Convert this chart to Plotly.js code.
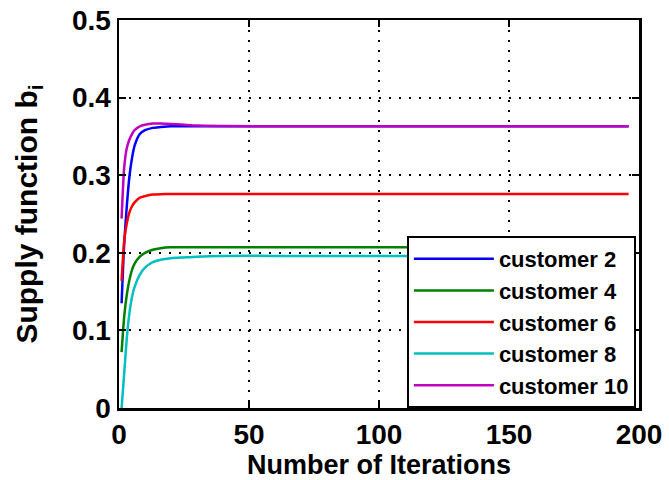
<!DOCTYPE html>
<html>
<head>
<meta charset="utf-8">
<script src="https://cdn.plot.ly/plotly-3.0.1.min.js"></script>
<style>html,body{margin:0;padding:0;background:#fff;}#chart{width:669px;height:480px;}</style>
</head>
<body>
<div id="chart"></div>
<script>
const iterations = [1, 2, 3, 4, 5, 6, 8, 10, 13, 16, 20, 25, 30, 40, 60, 196];
const customer2  = [0.135, 0.212, 0.260, 0.298, 0.322, 0.338, 0.353, 0.358, 0.361, 0.362, 0.363, 0.363, 0.363, 0.363, 0.363, 0.363];
const customer4  = [0.072, 0.118, 0.146, 0.165, 0.178, 0.186, 0.195, 0.200, 0.204, 0.206, 0.207, 0.207, 0.207, 0.207, 0.207, 0.207];
const customer6  = [0.164, 0.215, 0.238, 0.252, 0.260, 0.265, 0.271, 0.273, 0.275, 0.2755, 0.2757, 0.2757, 0.2757, 0.2757, 0.2757, 0.2757];
const customer8  = [0.000, 0.045, 0.090, 0.122, 0.143, 0.156, 0.172, 0.181, 0.188, 0.191, 0.193, 0.194, 0.195, 0.196, 0.196, 0.196];
const customer10 = [0.244, 0.310, 0.335, 0.346, 0.353, 0.358, 0.363, 0.365, 0.3665, 0.3665, 0.366, 0.365, 0.364, 0.3635, 0.363, 0.363];
const seriesNames = ['customer 2', 'customer 4', 'customer 6', 'customer 8', 'customer 10'];
const seriesColors = ['#0000ff', '#008000', '#ff0000', '#00bfbf', '#bf00bf'];
const seriesValues = [customer2, customer4, customer6, customer8, customer10];
const xTicks = [0, 50, 100, 150, 200];
const yTicks = [0, 0.1, 0.2, 0.3, 0.4, 0.5];

const font = {family: 'Liberation Sans, Arial, sans-serif', color: '#000', weight: 'bold'};
const traces = seriesValues.map((v, i) => ({
  x: iterations, y: v, type: 'scatter', mode: 'lines', name: seriesNames[i],
  line: {color: seriesColors[i], width: 2.5, shape: 'spline', smoothing: 0.6}
}));

const axisCommon = {
  showline: true, linecolor: '#000', linewidth: 2.5, mirror: 'ticks',
  ticks: 'inside', ticklen: 7, tickwidth: 2, tickcolor: '#000',
  showgrid: true, gridcolor: '#000', griddash: '2px,8px', gridwidth: 2,
  zeroline: false,
  tickfont: Object.assign({}, font, {size: 28})
};

const layout = {
  width: 669, height: 480,
  margin: {l: 119, r: 30, t: 20, b: 72},
  paper_bgcolor: '#fff', plot_bgcolor: '#fff',
  showlegend: true,
  xaxis: Object.assign({}, axisCommon, {
    range: [0, 200], tickvals: xTicks, ticktext: xTicks.map(String),
    title: {text: 'Number of Iterations', font: Object.assign({}, font, {size: 27}), standoff: 0}
  }),
  yaxis: Object.assign({}, axisCommon, {
    range: [0, 0.5], tickvals: yTicks, ticktext: yTicks.map(t => t === 0 ? '0' : t.toFixed(1)),
    title: {text: 'Supply function b<sub>i</sub>', font: Object.assign({}, font, {size: 30}), standoff: 26}
  }),
  legend: {
    x: 0.994, y: 0, xanchor: 'right', yanchor: 'bottom',
    bgcolor: '#fff', bordercolor: '#000', borderwidth: 2,
    font: Object.assign({}, font, {size: 22}),
    itemwidth: 80, tracegroupgap: 0
  }
};

Plotly.newPlot('chart', traces, layout, {staticPlot: true});
</script>
</body>
</html>
